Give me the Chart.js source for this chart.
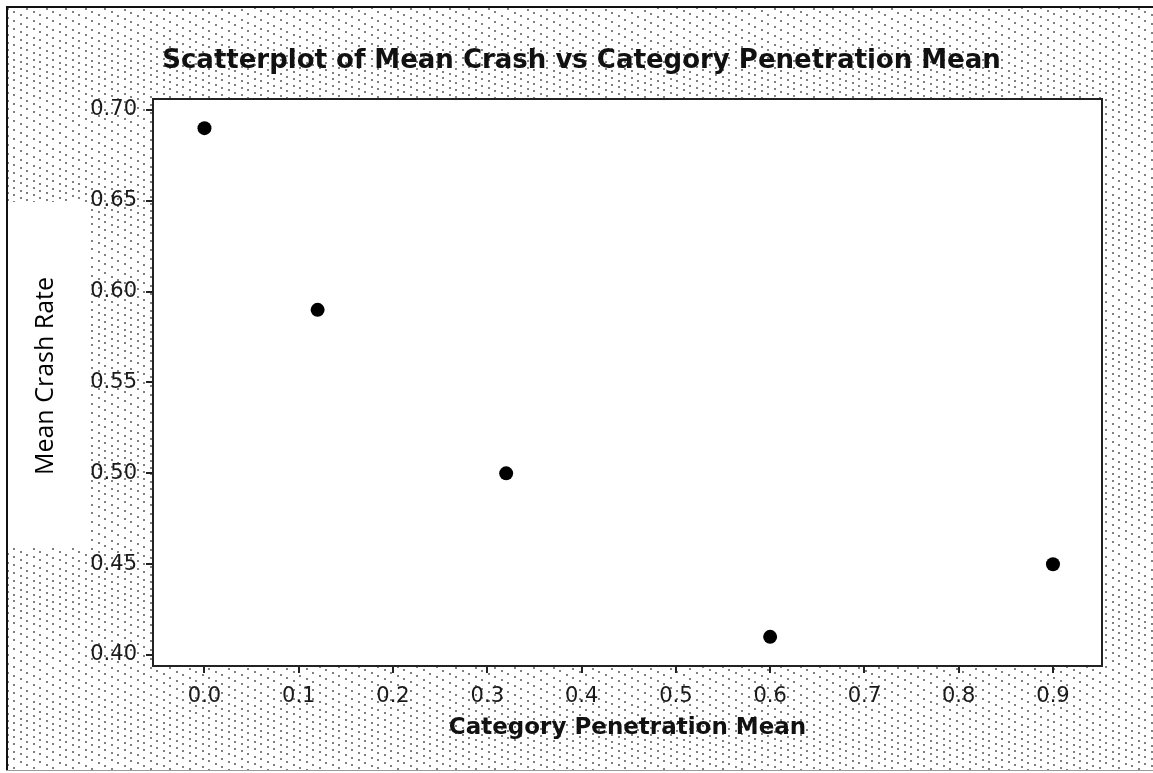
<!DOCTYPE html>
<html>
<head>
<meta charset="utf-8">
<script src="https://cdn.jsdelivr.net/npm/chart.js@4.4.1/dist/chart.umd.min.js"></script>
<style>
  html, body { margin: 0; padding: 0; background: #fff; }
  #wrap { width: 1153px; height: 773px; position: relative; }
</style>
</head>
<body>
<div id="wrap"><canvas id="c" width="1153" height="773"></canvas></div>
<script>
// Category penetration mean (x) and mean crash rate (y)
const penetration = [0.0, 0.12, 0.32, 0.6, 0.9];
const crashRate = [0.69, 0.59, 0.50, 0.41, 0.45];

// Axis tick values
const xTickValues = [0.0, 0.1, 0.2, 0.3, 0.4, 0.5, 0.6, 0.7, 0.8, 0.9];
const yTickValues = [0.40, 0.45, 0.50, 0.55, 0.60, 0.65, 0.70];

const titleText = 'Scatterplot of Mean Crash vs Category Penetration Mean';
const xTitleText = 'Category Penetration Mean';
const yTitleText = 'Mean Crash Rate';

const points = penetration.map((x, i) => ({ x: x, y: crashRate[i] }));

// Dotted fill behind the plot, with white plot area and label panel
const backdrop = {
  id: 'backdrop',
  beforeDraw(chart) {
    const ctx = chart.ctx;
    const W = chart.width, H = chart.height;
    const a = chart.chartArea;
    ctx.save();
    ctx.fillStyle = '#ffffff';
    ctx.fillRect(0, 0, W, H);

    ctx.beginPath();
    ctx.rect(8, 8, W - 8, 762);
    ctx.clip();
    ctx.fillStyle = '#808080';
    for (let c = -700; c < H + 40; c += 8) {
      for (let x = 0; x < W; x += 6.5) {
        const y = c + 0.42 * x + 3 * Math.sin(x / 53 + c / 21);
        if (y < 0 || y > H) continue;
        ctx.fillRect(Math.round(x), Math.round(y), 2, 2);
      }
    }
    ctx.restore();

    ctx.save();
    ctx.fillStyle = '#ffffff';
    ctx.fillRect(a.left, a.top, a.right - a.left, a.bottom - a.top);
    // panel behind the vertical axis title
    ctx.fillRect(8, 202, 80, 346);

    // outer frame
    ctx.fillStyle = '#111';
    ctx.fillRect(6, 6, W - 6, 2);
    ctx.fillRect(6, 6, 2, 764);
    ctx.fillStyle = '#9a9a9a';
    ctx.fillRect(6, 770, W - 6, 1);

    // vertical axis title
    ctx.translate(46, 376);
    ctx.rotate(-Math.PI / 2);
    ctx.fillStyle = '#000';
    ctx.font = '25px "Open Sans"';
    ctx.textAlign = 'center';
    ctx.textBaseline = 'middle';
    ctx.fillText(yTitleText, 0, 0);
    ctx.restore();
  },
  afterDatasetsDraw(chart) {
    const ctx = chart.ctx;
    const a = chart.chartArea;
    ctx.save();
    ctx.strokeStyle = '#222';
    ctx.lineWidth = 2;
    ctx.strokeRect(a.left, a.top, a.right - a.left, a.bottom - a.top);
    ctx.restore();
  }
};

new Chart(document.getElementById('c'), {
  type: 'scatter',
  data: {
    datasets: [{
      data: points,
      backgroundColor: '#000',
      borderWidth: 0,
      pointRadius: 7,
      pointHoverRadius: 7
    }]
  },
  options: {
    responsive: false,
    devicePixelRatio: 1,
    animation: false,
    layout: { padding: { left: 61, top: 0, right: 51, bottom: 0 } },
    plugins: {
      legend: { display: false },
      tooltip: { enabled: false },
      title: {
        display: true,
        text: titleText,
        color: '#111',
        font: { family: 'DejaVu Sans', size: 26, weight: 'bold', lineHeight: 1.2 },
        padding: { top: 45.4, bottom: 22.4 }
      }
    },
    scales: {
      x: {
        type: 'linear',
        min: -0.0546,
        max: 0.952,
        afterFit(scale) { scale.height = 107; },
        afterBuildTicks(scale) { scale.ticks = xTickValues.map(v => ({ value: v })); },
        grid: { display: true, drawOnChartArea: false, drawTicks: true, tickLength: 7, color: '#222', lineWidth: 2 },
        border: { display: false },
        ticks: {
          color: '#1a1a1a',
          font: { family: 'DejaVu Sans', size: 21 },
          padding: 11,
          maxRotation: 0,
          callback: v => Number(v).toFixed(1)
        },
        title: {
          display: true,
          text: xTitleText,
          color: '#111',
          font: { family: 'DejaVu Sans', size: 23, weight: 'bold', lineHeight: 1.2 },
          padding: { top: 0, bottom: 31 }
        }
      },
      y: {
        type: 'linear',
        min: 0.39396,
        max: 0.70604,
        afterFit(scale) { scale.width = 92; },
        afterBuildTicks(scale) { scale.ticks = yTickValues.map(v => ({ value: v })); },
        grid: { display: true, drawOnChartArea: false, drawTicks: true, tickLength: 7, color: '#222', lineWidth: 2 },
        border: { display: false },
        ticks: {
          color: '#1a1a1a',
          font: { family: 'DejaVu Sans', size: 21 },
          padding: 9,
          callback: v => Number(v).toFixed(2)
        }
      }
    }
  },
  plugins: [backdrop]
});
</script>
</body>
</html>
